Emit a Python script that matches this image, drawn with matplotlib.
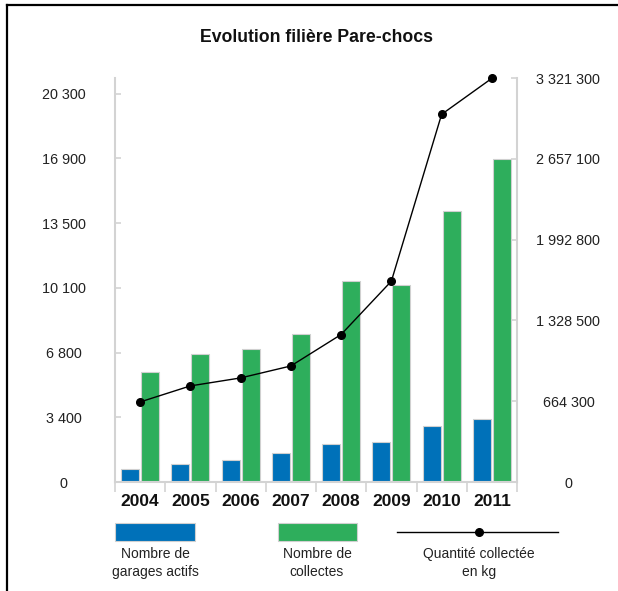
import numpy as np
import matplotlib.pyplot as plt
from matplotlib.patches import Rectangle
from matplotlib.lines import Line2D

plt.rcParams['font.family'] = ['Liberation Sans', 'DejaVu Sans']

# données
years = ['2004', '2005', '2006', '2007', '2008', '2009', '2010', '2011']
garages = [665, 957, 1150, 1517, 2004, 2075, 2930, 3280]
collectes = [5740, 6715, 6977, 7762, 10500, 10290, 14163, 16884]
quantite = [658000, 790000, 855600, 954000, 1212600, 1651000, 3022600, 3318700]

left_ticks = ['0', '3 400', '6 800', '10 100', '13 500', '16 900', '20 300']
right_ticks = ['0', '664 300', '1 328 500', '1 992 800', '2 657 100', '3 321 300']

blue = '#0071B9'
green = '#2EAE5C'
grey = '#D3D3D3'
edge = '#D0D0D0'
txt = '#222222'

W, H = 618, 591
fig = plt.figure(figsize=(W / 100, H / 100), dpi=100)

# cadre / légende dessinés en pixels
bg = fig.add_axes([0, 0, 1, 1])
bg.set_xlim(0, W)
bg.set_ylim(H, 0)
bg.axis('off')

ax = fig.add_axes([115 / W, (H - 482) / H, 402 / W, 404 / H])
x = np.arange(len(years))
w = 0.36
ax.bar(x - 0.2, garages, w, color=blue, edgecolor=edge, linewidth=0.8, zorder=2)
ax.bar(x + 0.2, collectes, w, color=green, edgecolor=edge, linewidth=0.8, zorder=2)
ax.set_xlim(-0.5, len(years) - 0.5)
ax.set_ylim(0, 21120)
ax.set_yticks([k * 20300 / 6 for k in range(7)])
ax.set_yticklabels(left_ticks)
for lab in ax.get_yticklabels():
    lab.set_horizontalalignment('center')
ax.tick_params(axis='y', direction='in', length=4, color=grey, width=1.2,
               pad=37, labelsize=10.4, labelcolor=txt)
ax.set_xticks(x)
ax.set_xticklabels(years, fontweight='bold', fontsize=12.5, color='#111111')
ax.set_xticks(np.arange(-0.5, len(years)), minor=True)
ax.tick_params(axis='x', which='major', length=0, pad=9)
ax.tick_params(axis='x', which='minor', length=7.5, color=grey, width=1.2, direction='out')
ax.spines['top'].set_visible(False)
for s in ['left', 'right', 'bottom']:
    ax.spines[s].set_color(grey)
    ax.spines[s].set_linewidth(1.5)

ax2 = ax.twinx()
ax2.plot(x, quantite, color='black', linewidth=1, marker='o', markersize=5.5,
         zorder=3, clip_on=False)
ax2.set_ylim(0, 3321300)
ax2.set_yticks([k * 3321300 / 5 for k in range(6)])
ax2.set_yticklabels(right_ticks)
for lab in ax2.get_yticklabels():
    lab.set_horizontalalignment('center')
ax2.tick_params(axis='y', direction='in', length=4, color=grey, width=1.2,
                pad=37, labelsize=10.4, labelcolor=txt)
for s in ax2.spines.values():
    s.set_visible(False)

fig.text(317 / W, 1 - 38 / H, 'Evolution filière Pare-chocs', ha='center', va='center',
         fontsize=12.7, fontweight='bold', color='#111111')

# cadre noir
bg.add_line(Line2D([7, W], [5, 5], color='black', linewidth=1.6))
bg.add_line(Line2D([7, 7], [5, H], color='black', linewidth=1.6))

# légende
bg.add_patch(Rectangle((115, 523), 80, 18, facecolor=blue, edgecolor=edge, linewidth=0.8))
bg.add_patch(Rectangle((278, 523), 79, 18, facecolor=green, edgecolor=edge, linewidth=0.8))
bg.add_line(Line2D([397, 558], [532, 532], color='black', linewidth=1))
bg.add_line(Line2D([479], [532], color='black', marker='o', markersize=5.5, linestyle='none'))
for cx, label in [(155, 'Nombre de\ngarages actifs'), (317, 'Nombre de\ncollectes'),
                  (479, 'Quantité collectée\nen kg')]:
    bg.text(cx, 563, label, ha='center', va='center', fontsize=10, color=txt, linespacing=1.35)

fig.savefig('out.png', dpi=100)
